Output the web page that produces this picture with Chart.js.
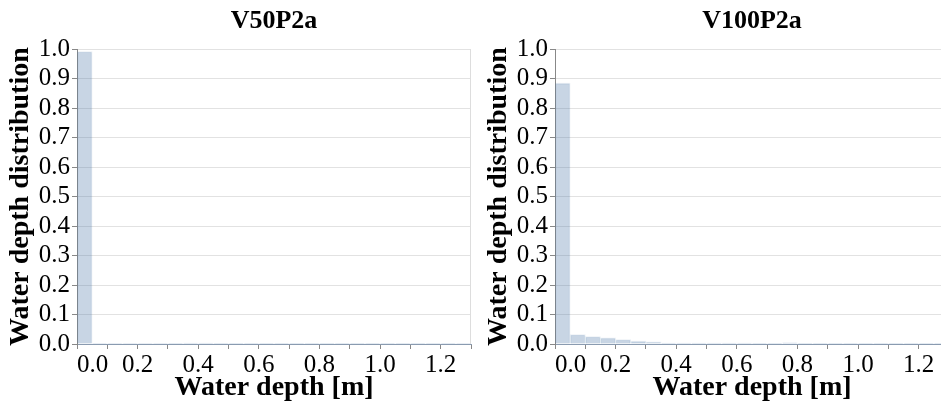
<!DOCTYPE html>
<html><head><meta charset="utf-8">
<script src="https://cdn.jsdelivr.net/npm/chart.js@4"></script>
<style>
html,body{margin:0;padding:0;width:941px;height:403px;overflow:hidden;background:#fff;}
.box{position:absolute;top:0;height:403px;}
</style></head><body>
<div class="box" style="left:0;width:476px"><canvas id="c1" width="476" height="403"></canvas></div>
<div class="box" style="left:478px;width:476px"><canvas id="c2" width="476" height="403"></canvas></div>
<script>
// Histogram bins (start of each 0.05 m bin)
const binWidth = 0.05;
const binStart = [0.00,0.05,0.10,0.15,0.20,0.25,0.30,0.35,0.40,0.45,0.50,0.55,0.60,0.65,0.70,0.75,0.80,0.85,0.90,0.95,1.00,1.05,1.10,1.15,1.20,1.25];
const titles = ['V50P2a', 'V100P2a'];
const distV50P2a  = [0.992,0.002,0.002,0.002,0.002,0.002,0.001,0.003,0.003,0.001,0.001,0.001,0.001,0.001,0.001,0.001,0.001,0.001,0.001,0.001,0.001,0.001,0.001,0.001,0.001,0.002];
const distV100P2a = [0.885,0.032,0.025,0.021,0.015,0.010,0.007,0.003,0.003,0.003,0.003,0.003,0.003,0.001,0.001,0.004,0.001,0.001,0.001,0.001,0.001,0.001,0.001,0.001,0.001,0.001];
const xTickLabels = ['0.0','0.2','0.4','0.6','0.8','1.0','1.2'];
const xTitle = 'Water depth [m]';
const yTitle = 'Water depth distribution';

const FONT = "'Liberation Serif', 'Times New Roman', serif";

const rightBorder = {
  id: 'rightBorder',
  afterDraw(c) {
    const {ctx, chartArea: a} = c;
    ctx.save();
    ctx.strokeStyle = '#dddddd';
    ctx.lineWidth = 1;
    ctx.beginPath();
    ctx.moveTo(a.right - 0.5, a.top);
    ctx.lineTo(a.right - 0.5, a.bottom);
    ctx.stroke();
    ctx.restore();
  }
};

function makeChart(id, title, values) {
  return new Chart(document.getElementById(id), {
    type: 'bar',
    data: {
      datasets: [{
        data: binStart.map((b, i) => ({x: b + binWidth / 2, y: values[i]})),
        backgroundColor: 'rgba(76,120,168,0.31)',
        borderColor: 'rgba(76,120,168,0.12)',
        borderWidth: 1,
        barPercentage: 1,
        categoryPercentage: 1,
        grouped: false
      }]
    },
    options: {
      responsive: false,
      animation: false,
      layout: {padding: {left: 0, right: 5, top: 0, bottom: 0}},
      plugins: {
        legend: {display: false},
        tooltip: {enabled: false},
        title: {
          display: true, text: title, fullSize: false, color: '#000',
          font: {family: FONT, size: 26, weight: 'bold'},
          padding: {top: 6, bottom: 12}
        }
      },
      scales: {
        x: {
          type: 'linear', min: 0, max: 1.3, offset: false,
          afterFit: s => { s.height = 59; },
          ticks: {
            stepSize: 0.1, autoSkip: false, maxRotation: 0, minRotation: 0,
            padding: 1, align: 'inner', color: '#000',
            font: {family: FONT, size: 25},
            callback: v => {
              const lbl = (Math.round(v * 10) / 10).toFixed(1);
              return xTickLabels.includes(lbl) ? lbl : '';
            }
          },
          grid: {drawOnChartArea: false, drawTicks: true, tickLength: 5, tickColor: '#888', offset: false},
          border: {color: '#8a9bb0'},
          title: {
            display: true, text: xTitle, color: '#000',
            font: {family: FONT, size: 28, weight: 'bold'},
            padding: {top: 0, bottom: -2}
          }
        },
        y: {
          min: 0, max: 1,
          afterFit: s => { s.width = 77; },
          ticks: {
            stepSize: 0.1, autoSkip: false, padding: 2, color: '#000',
            font: {family: FONT, size: 25},
            callback: v => v.toFixed(1)
          },
          grid: {color: '#e2e2e2', tickLength: 5, tickColor: '#888'},
          border: {color: '#888'},
          title: {
            display: true, text: yTitle, color: '#000',
            font: {family: FONT, size: 28, weight: 'bold'},
            padding: {top: 4, bottom: 0}
          }
        }
      }
    },
    plugins: [rightBorder]
  });
}

makeChart('c1', titles[0], distV50P2a);
makeChart('c2', titles[1], distV100P2a);
</script>
</body></html>
